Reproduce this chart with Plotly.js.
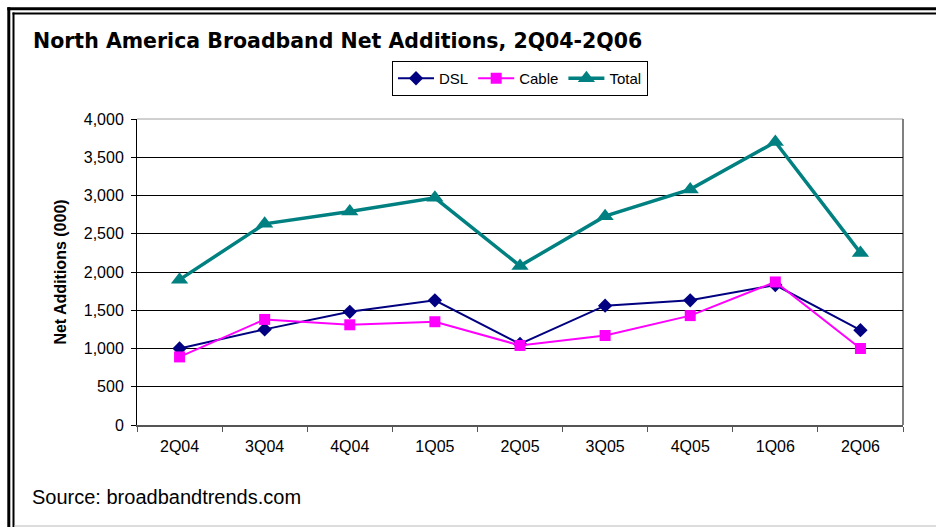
<!DOCTYPE html>
<html>
<head>
<meta charset="utf-8">
<script src="https://cdn.plot.ly/plotly-3.0.1.min.js"></script>
<style>
  html, body { margin: 0; padding: 0; background: #fff; }
  #chart { width: 936px; height: 527px; }
</style>
</head>
<body>
<div id="chart"></div>
<script>
// ---- data ----
const quarters = ["2Q04", "3Q04", "4Q04", "1Q05", "2Q05", "3Q05", "4Q05", "1Q06", "2Q06"];
const dsl   = [1000, 1250, 1480, 1630, 1060, 1560, 1630, 1830, 1240];
const cable = [890, 1380, 1310, 1350, 1040, 1170, 1430, 1870, 1000];
const total = [1900, 2630, 2790, 2970, 2080, 2730, 3080, 3700, 2250];
const yTickVals = [0, 500, 1000, 1500, 2000, 2500, 3000, 3500, 4000];
const yTickText = ["0", "500", "1,000", "1,500", "2,000", "2,500", "3,000", "3,500", "4,000"];

// ---- geometry helpers ----
const W = 936, H = 527;
const M = { l: 137, r: 33, t: 119, b: 102 };
const PW = W - M.l - M.r, PH = H - M.t - M.b;
const px = x => (x - M.l) / PW;
const py = y => (H - M.b - y) / PH;

const font = "Arial, 'Liberation Sans', sans-serif";
const titleFont = "'DejaVu Sans', Verdana, sans-serif";

const traces = [
  { name: "DSL", x: quarters, y: dsl, type: "scatter", mode: "lines+markers",
    line: { color: "#000080", width: 2 },
    marker: { symbol: "diamond", size: 11, color: "#000080" } },
  { name: "Cable", x: quarters, y: cable, type: "scatter", mode: "lines+markers",
    line: { color: "#FF00FF", width: 2 },
    marker: { symbol: "square", size: 11, color: "#FF00FF" } },
  { name: "Total", x: quarters, y: total, type: "scatter", mode: "lines+markers",
    line: { color: "#008080", width: 3.5 },
    marker: { symbol: "triangle-up", size: 15, color: "#008080" } }
];

const shapes = [
  // outer frame (thick)
  { type: "line", xref: "paper", yref: "paper", x0: px(8.8), x1: px(8.8), y0: py(7.3), y1: py(H + 2), line: { color: "#000", width: 3 } },
  { type: "line", xref: "paper", yref: "paper", x0: px(7.3), x1: px(W + 2), y0: py(8.8), y1: py(8.8), line: { color: "#000", width: 3 } },
  // inner frame (thin)
  { type: "line", xref: "paper", yref: "paper", x0: px(13.5), x1: px(13.5), y0: py(12.5), y1: py(H + 2), line: { color: "#000", width: 2 } },
  { type: "line", xref: "paper", yref: "paper", x0: px(12.5), x1: px(W + 2), y0: py(13.5), y1: py(13.5), line: { color: "#000", width: 2 } },
  // bottom light line
  { type: "line", xref: "paper", yref: "paper", x0: px(14.5), x1: px(W + 2), y0: py(526), y1: py(526), line: { color: "#d0d0d0", width: 1.5 } },
  // plot area border (top & right, gray)
  { type: "line", xref: "paper", yref: "paper", x0: 0, x1: 1, y0: 1, y1: 1, line: { color: "#a0a0a0", width: 1 }, layer: "between" },
  { type: "line", xref: "paper", yref: "paper", x0: 1, x1: 1, y0: 0, y1: 1, line: { color: "#808080", width: 2 }, layer: "between" }
];

const layout = {
  width: W, height: H,
  margin: M,
  paper_bgcolor: "#fff", plot_bgcolor: "#fff",
  font: { family: font, color: "#000", size: 16 },
  title: {
    text: "<b>North America Broadband Net Additions, 2Q04-2Q06</b>",
    font: { family: titleFont, size: 20.5, color: "#000" },
    xref: "container", yref: "container",
    x: 33 / W, xanchor: "left",
    y: 1 - 41 / H, yanchor: "middle"
  },
  showlegend: true,
  legend: {
    orientation: "h",
    x: 0.5, xanchor: "center",
    y: py(61), yanchor: "top",
    bgcolor: "#fff", bordercolor: "#000", borderwidth: 1,
    font: { family: font, size: 15, color: "#000" },
    itemwidth: 36,
    tracegroupgap: 0
  },
  xaxis: {
    type: "category",
    tickmode: "array", tickvals: quarters, ticktext: quarters,
    range: [-0.5, quarters.length - 0.5],
    tickson: "boundaries",
    ticks: "outside", ticklen: 5, tickcolor: "#555", tickwidth: 1,
    showline: true, linecolor: "#555", linewidth: 2,
    showgrid: false, zeroline: false,
    tickfont: { family: font, size: 16, color: "#000" },
    ticklabelstandoff: 6,
    fixedrange: true
  },
  yaxis: {
    range: [0, 4000],
    tickmode: "array", tickvals: yTickVals, ticktext: yTickText,
    ticks: "outside", ticklen: 5, tickcolor: "#000", tickwidth: 1,
    showline: true, linecolor: "#000", linewidth: 1,
    showgrid: true, gridcolor: "#000", gridwidth: 1,
    zeroline: false,
    tickfont: { family: font, size: 16, color: "#000" },
    ticklabelstandoff: 4,
    title: { text: "<b>Net Additions (000)</b>", font: { family: font, size: 16, color: "#000" }, standoff: 13 },
    fixedrange: true
  },
  shapes: shapes,
  annotations: [
    { text: "Source: broadbandtrends.com", xref: "paper", yref: "paper",
      x: px(30), xanchor: "left", y: py(497), yanchor: "middle",
      showarrow: false,
      font: { family: font, size: 20, color: "#000" } }
  ]
};

Plotly.newPlot("chart", traces, layout, { displayModeBar: false, staticPlot: true });
</script>
</body>
</html>
